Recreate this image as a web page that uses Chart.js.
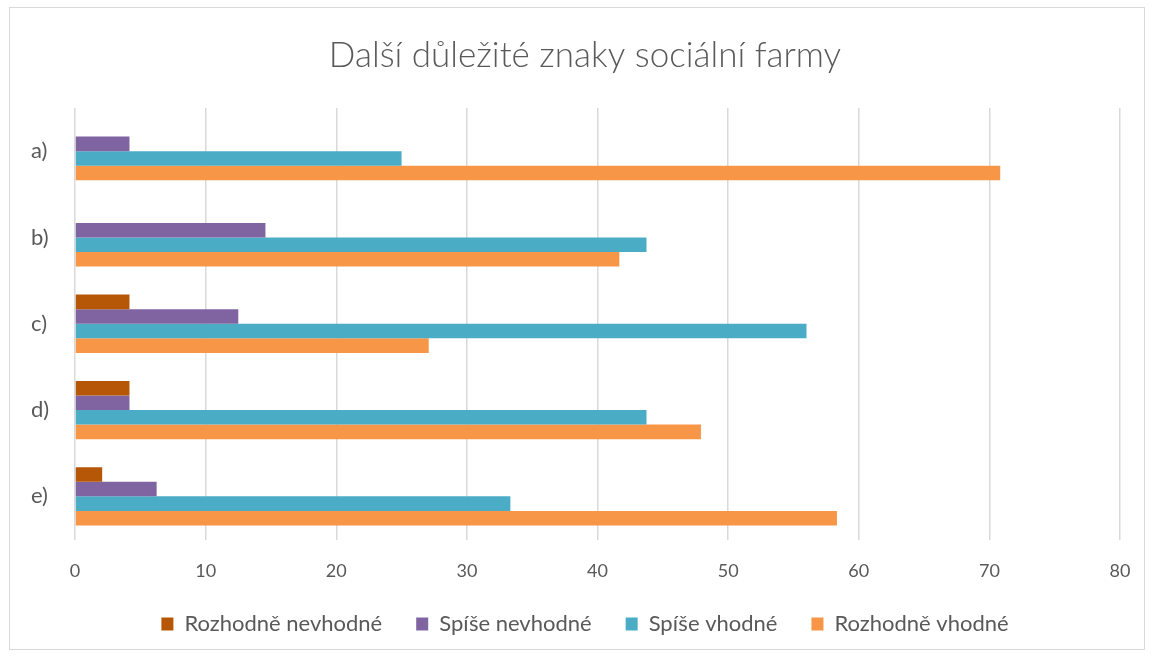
<!DOCTYPE html>
<html>
<head>
<meta charset="utf-8">
<script src="https://cdn.jsdelivr.net/npm/chart.js@4.4.0/dist/chart.umd.min.js"></script>
<style>
  html, body { margin: 0; padding: 0; background: #ffffff; }
  #obal { position: absolute; left: 0; top: 0; width: 1154px; height: 657px; }
  #ramecek { position: absolute; left: 9px; top: 7px; width: 1136px; height: 643px; border: 1px solid #d9d9d9; box-sizing: border-box; }
  canvas { position: absolute; left: 0; top: 0; }
</style>
</head>
<body>
<div id="obal">
  <div id="ramecek"></div>
  <canvas id="myChart" width="1154" height="657"></canvas>
</div>
<script>
const kategorie = ['a)', 'b)', 'c)', 'd)', 'e)'];

const rozhodneNevhodne = [0, 0, 4.17, 4.17, 2.08];
const spiseNevhodne = [4.17, 14.58, 12.5, 4.17, 6.25];
const spiseVhodne = [25, 43.75, 56, 43.75, 33.33];
const rozhodneVhodne = [70.83, 41.67, 27.08, 47.92, 58.33];

const osaX = [0, 10, 20, 30, 40, 50, 60, 70, 80];

const ctx = document.getElementById('myChart');
const sedaText = '#595959';

new Chart(ctx, {

  type: 'bar',

  data: {

    labels: kategorie,

    datasets: [
      { label: 'Rozhodně nevhodné', data: rozhodneNevhodne, backgroundColor: '#b65708' },
      { label: 'Spíše nevhodné', data: spiseNevhodne, backgroundColor: '#8064a2' },
      { label: 'Spíše vhodné', data: spiseVhodne, backgroundColor: '#4bacc6' },
      { label: 'Rozhodně vhodné', data: rozhodneVhodne, backgroundColor: '#f79646' }
    ]
  },

  options: {

    indexAxis: 'y',
    responsive: false,
    animation: false,
    categoryPercentage: 0.675,
    barPercentage: 1,

    // vlevo vic mista, aby titulek a legenda byly posunute jako v predloze
    layout: {
      padding: { left: 50, right: 34, top: 0, bottom: 12 }
    },

    plugins: {
      title: {
        display: true,
        text: 'Další důležité znaky sociální farmy',
        color: sedaText,
        font: { family: 'Lato', size: 35, weight: '300' },
        padding: { top: 35, bottom: 31 }
      },
      legend: {
        position: 'bottom',
        labels: {
          color: sedaText,
          font: { family: 'Lato', size: 22 },
          boxWidth: 12,
          boxHeight: 13,
          padding: 34
        }
      },
      tooltip: { enabled: false }
    },

    scales: {
      x: {
        min: 0,
        max: 80,
        afterBuildTicks: function (osa) {
          osa.ticks = osaX.map(function (v) { return { value: v }; });
        },
        grid: { color: '#d9d9d9', lineWidth: 1.5, drawTicks: false },
        border: { display: false },
        ticks: { color: sedaText, font: { family: 'Lato', size: 18 }, padding: 21 },
        afterFit: function (osa) { osa.height = 39.5; }
      },
      y: {
        grid: { display: false },
        border: { display: false },
        // mirror, jinak se popisky orizou na sirku osy
        ticks: { color: sedaText, font: { family: 'Lato', size: 22 }, mirror: true, padding: -44 },
        afterFit: function (osa) { osa.width = 25; }
      }
    }
  }
});
</script>
</body>
</html>
